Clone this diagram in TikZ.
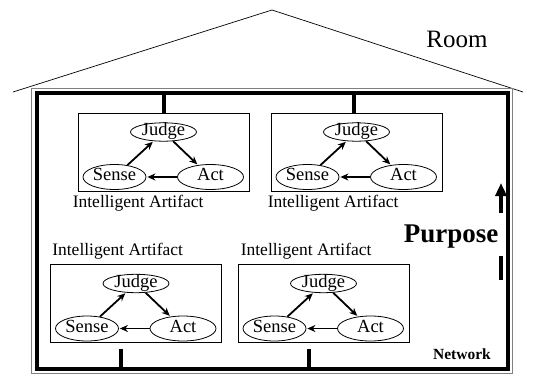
\documentclass[tikz,border=0pt]{standalone}
\usepackage{fontspec}
\setmainfont{Liberation Serif}
\usetikzlibrary{positioning,shapes.geometric,arrows.meta}

\begin{document}
\begin{tikzpicture}[x=1pt,y=-1pt,>=stealth,
  wall/.style={line width=4pt},
  unit/.style={draw,line width=0.8pt,minimum width=171pt,minimum height=78pt},
  oval/.style={draw,ellipse,inner sep=0pt,line width=0.8pt,font=\fontsize{18.5}{18.5}\selectfont,text height=10pt,text depth=3pt},
  flow/.style={-{Stealth[length=8pt,width=7pt]},line width=1.8pt,shorten >=1pt},
  lbl/.style={font=\fontsize{17.5}{17.5}\selectfont,inner sep=0pt}]
  \useasboundingbox (0,0) rectangle (535,377);
  % roof and walls of the room
  \draw[line width=0.7pt] (13,92) -- (272,10) -- (523,92);
  \draw[gray,line width=0.8pt] (31,88) rectangle (512,373);
  \draw[wall] (36.5,93) rectangle (508,369);
  \node[font=\fontsize{25}{25}\selectfont,anchor=base,inner sep=0pt] (room) at (457,48) {Room};

  % the four artifacts
  \foreach \i/\x/\y in {1/163.5/152,2/356.5/152,3/136/303.5,4/323.5/303.5} {
    \node[unit] (box\i) at (\x,\y) {};
    \node[oval,minimum width=66pt,minimum height=18pt] (judge\i) at (\x,\y-20) {Judge};
    \node[oval,minimum width=63pt,minimum height=25pt] (sense\i) at (\x-49,\y+25) {Sense};
    \node[oval,minimum width=66pt,minimum height=25pt] (act\i) at (\x+47,\y+25) {Act};
    \draw[flow] (sense\i) -- (judge\i);
    \draw[flow] (judge\i) -- (act\i);
    \draw[flow] (act\i) -- (sense\i);
  }
  \node[lbl,anchor=base west] (lab1) at ([xshift=-5pt,yshift=-16pt]box1.south west) {Intelligent Artifact};
  \node[lbl,anchor=base west] (lab2) at ([xshift=-3pt,yshift=-16pt]box2.south west) {Intelligent Artifact};
  \node[lbl,anchor=base west] (lab3) at ([xshift=2pt,yshift=9pt]box3.north west) {Intelligent Artifact};
  \node[lbl,anchor=base west] (lab4) at ([xshift=3pt,yshift=9pt]box4.north west) {Intelligent Artifact};

  % network taps
  \coordinate (tap1) at (163.5,93);
  \coordinate (tap2) at (354,93);
  \coordinate (tap3) at (121,349);
  \coordinate (tap4) at (309,349);
  \draw[wall] (tap1) -- (tap1 |- box1.north);
  \draw[wall] (tap2) -- (tap2 |- box2.north);
  \draw[wall] (tap3) -- ++(0,20);
  \draw[wall] (tap4) -- ++(0,20);
  \node[font=\bfseries\fontsize{15.5}{15.5}\selectfont,anchor=base,inner sep=0pt] (net) at (462,359) {Network};

  % purpose
  \node[font=\bfseries\fontsize{27}{27}\selectfont,anchor=base,inner sep=0pt] (purpose) at (451,242) {Purpose};
  \coordinate (up) at (501,213);
  \draw[-{Triangle[length=13pt,width=11pt]},line width=3.5pt] (up) -- ++(0,-30);
  \coordinate (bar) at (501,256);
  \draw[line width=3.5pt] (bar) -- ++(0,24);
\end{tikzpicture}
\end{document}
